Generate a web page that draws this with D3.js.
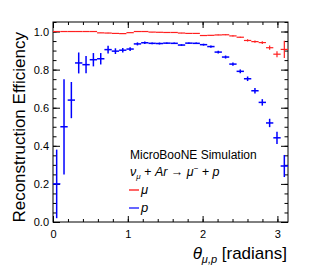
<!DOCTYPE html>
<html>
<head>
	<script src="https://cdn.jsdelivr.net/npm/d3@7"></script>
	<style>
		html, body {
			padding: 0;
			margin: 0;
			background: white;
		}
		svg text {
			font-family: "Liberation Sans", Arial, sans-serif;
		}
	</style>
</head>
<body>
	<div id="chart"></div>

	<script>
		// 32 bins over [0, pi]
		var nBins = 32;
		var binEdges = d3.range(nBins + 1).map(function(i) { return i * Math.PI / nBins; });

		// muon efficiency and errors
		var muEff = [1.000, 1.000, 1.000, 1.000, 1.000, 1.000, 0.993, 0.992,
		             0.990, 0.989, 0.994, 1.000, 1.000, 0.997, 0.996, 0.995,
		             0.995, 0.992, 0.990, 0.990, 0.979, 0.980, 0.982, 0.983,
		             0.977, 0.970, 0.953, 0.947, 0.942, 0.915, 0.881, 0.906];
		var muErr = [0.000, 0.000, 0.000, 0.001, 0.001, 0.001, 0.001, 0.001,
		             0.001, 0.001, 0.001, 0.001, 0.001, 0.001, 0.001, 0.001,
		             0.001, 0.001, 0.001, 0.001, 0.002, 0.002, 0.002, 0.002,
		             0.003, 0.003, 0.006, 0.006, 0.007, 0.011, 0.016, 0.045];

		// proton efficiency and errors
		var pEff = [0.200, 0.500, 0.640, 0.835, 0.826, 0.852, 0.857, 0.905,
		            0.897, 0.902, 0.908, 0.935, 0.941, 0.938, 0.937, 0.939,
		            0.938, 0.929, 0.939, 0.938, 0.931, 0.921, 0.892, 0.866,
		            0.829, 0.791, 0.752, 0.689, 0.628, 0.520, 0.442, 0.294];
		var pErr = [0.180, 0.250, 0.095, 0.055, 0.045, 0.035, 0.030, 0.020,
		            0.015, 0.012, 0.010, 0.008, 0.006, 0.005, 0.005, 0.004,
		            0.004, 0.004, 0.004, 0.004, 0.005, 0.006, 0.007, 0.008,
		            0.009, 0.010, 0.012, 0.014, 0.017, 0.022, 0.032, 0.058];

		var xMajor = [0, 1, 2, 3];
		var xMinor = d3.range(0, 3.15, 0.2);
		var yMajor = [0, 0.2, 0.4, 0.6, 0.8, 1.0];
		var yMinor = d3.range(0, 1.051, 0.05);

		var width = 313, height = 272;
		var L = 53, R = 288, T = 22, B = 222;

		var svg = d3.select('#chart').append('svg')
			.attr('width', width)
			.attr('height', height);

		var x = d3.scaleLinear().domain([0, Math.PI]).range([L, R]);
		var y = d3.scaleLinear().domain([0, 1.05]).range([B, T]);

		// axes (ticks pointing inward, ROOT style)
		function tickAxis(axisFn, scale, values, size, tr, labels) {
			var g = svg.append('g').attr('transform', tr)
				.call(axisFn(scale).tickValues(values).tickSize(-size).tickSizeOuter(0)
					.tickFormat(labels ? labels : ''));
			g.select('.domain').remove();
			g.selectAll('line').attr('stroke', '#000');
			return g;
		}
		tickAxis(d3.axisBottom, x, xMinor, 3, 'translate(0,' + B + ')');
		var xb = tickAxis(d3.axisBottom, x, xMajor, 6, 'translate(0,' + B + ')', d3.format('d'));
		xb.selectAll('text').attr('y', 8).attr('font-size', 11).attr('fill', '#000');
		tickAxis(d3.axisTop, x, xMinor, 3, 'translate(0,' + T + ')');
		tickAxis(d3.axisTop, x, xMajor, 6, 'translate(0,' + T + ')');

		tickAxis(d3.axisLeft, y, yMinor, 3.5, 'translate(' + L + ',0)');
		var yl = tickAxis(d3.axisLeft, y, yMajor, 7, 'translate(' + L + ',0)', d3.format('.1f'));
		yl.selectAll('text').attr('x', -4).attr('font-size', 11).attr('fill', '#000');
		tickAxis(d3.axisRight, y, yMinor, 3.5, 'translate(' + R + ',0)');
		tickAxis(d3.axisRight, y, yMajor, 7, 'translate(' + R + ',0)');

		svg.append('rect')
			.attr('x', L).attr('y', T)
			.attr('width', R - L).attr('height', B - T)
			.attr('fill', 'none').attr('stroke', '#000').attr('stroke-width', 1);

		// histogram points with error bars
		function drawSeries(vals, errs, color, lw) {
			var g = svg.append('g').attr('stroke', color).attr('stroke-width', lw);
			vals.forEach(function(v, i) {
				var x0 = x(binEdges[i]), x1 = x(binEdges[i + 1]);
				var xc = x((binEdges[i] + binEdges[i + 1]) / 2);
				g.append('line')
					.attr('x1', x0).attr('x2', x1)
					.attr('y1', y(v)).attr('y2', y(v));
				if (errs[i] > 0) {
					g.append('line')
						.attr('x1', xc).attr('x2', xc)
						.attr('y1', y(Math.max(0, v - errs[i])))
						.attr('y2', y(Math.min(1.05, v + errs[i])));
				}
			});
		}
		drawSeries(muEff, muErr, '#ff2020', 1.2);
		drawSeries(pEff, pErr, '#0000ff', 1.5);

		// legend
		svg.append('text')
			.attr('x', 130).attr('y', 159)
			.attr('font-size', 12)
			.text('MicroBooNE Simulation');

		var proc = svg.append('text')
			.attr('x', 130).attr('y', 176)
			.attr('font-size', 12.5)
			.attr('font-style', 'italic');
		proc.append('tspan').text('\u03bd');
		proc.append('tspan').attr('dy', 3).attr('font-size', 8).text('\u03bc');
		proc.append('tspan').attr('dy', -3).text(' + Ar \u2192 \u03bc');
		proc.append('tspan').attr('dy', -5).attr('font-size', 8).text('\u2212');
		proc.append('tspan').attr('dy', 5).text(' + p');

		var legendItems = [
			{label: '\u03bc', color: '#ff0000', yy: 190},
			{label: 'p', color: '#0000ff', yy: 208}
		];
		legendItems.forEach(function(d) {
			svg.append('line')
				.attr('x1', 129).attr('x2', 139)
				.attr('y1', d.yy).attr('y2', d.yy)
				.attr('stroke', d.color).attr('stroke-width', 1.2);
			svg.append('text')
				.attr('x', 141).attr('y', d.yy + 4)
				.attr('font-size', 13)
				.attr('font-style', 'italic')
				.text(d.label);
		});

		// axis titles
		var xt = svg.append('text')
			.attr('x', 287).attr('y', 259)
			.attr('text-anchor', 'end')
			.attr('font-size', 17);
		xt.append('tspan').attr('font-style', 'italic').text('\u03b8');
		xt.append('tspan').attr('dy', 4).attr('font-size', 11).attr('font-style', 'italic').text('\u03bc,p');
		xt.append('tspan').attr('dy', -4).text(' [radians]');

		svg.append('text')
			.attr('transform', 'translate(25,32) rotate(-90)')
			.attr('text-anchor', 'end')
			.attr('font-size', 17)
			.text('Reconstruction Efficiency');
	</script>
</body>
</html>
